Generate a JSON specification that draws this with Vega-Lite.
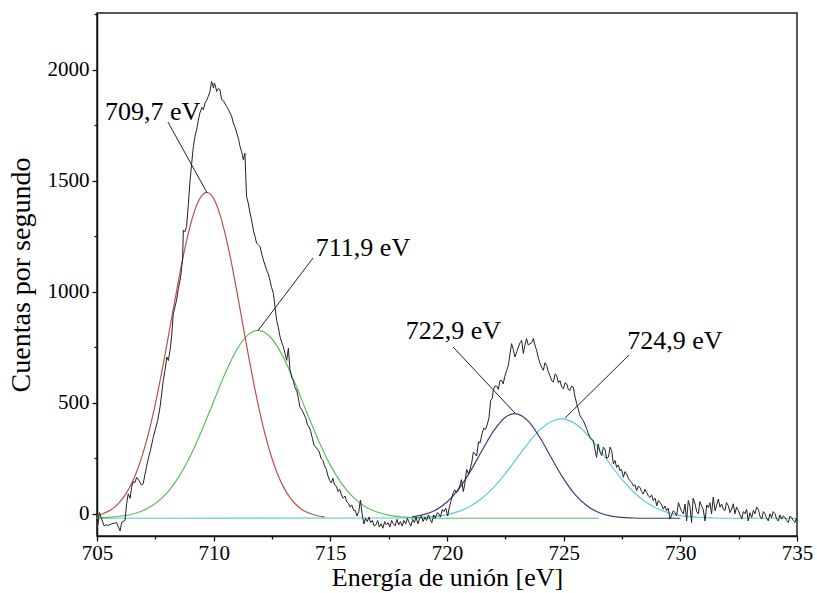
{
  "$schema": "https://vega.github.io/schema/vega-lite/v6.json",
  "width": 700,
  "height": 523,
  "autosize": "none",
  "padding": {"left": 97, "top": 13, "right": 20, "bottom": 57},
  "background": "white",
  "config": {
    "font": "Liberation Serif, serif",
    "view": {"stroke": "#222", "strokeWidth": 1.5},
    "style": {
      "guide-label": {"font": "Liberation Serif, serif", "fill": "#000"},
      "guide-title": {"font": "Liberation Serif, serif", "fill": "#000", "fontWeight": "normal"}
    },
    "axis": {
      "labelFont": "Liberation Serif, serif",
      "titleFont": "Liberation Serif, serif",
      "labelColor": "#000",
      "titleColor": "#000",
      "titleFontWeight": "normal",
      "domainColor": "#111",
      "domainWidth": 1.5,
      "tickColor": "#111",
      "tickWidth": 1.3,
      "grid": false,
      "labelOverlap": false,
      "labelFlush": false
    }
  },
  "datasets": {
    "spectrum": [
      {"energia": 705.0, "cuentas": -65}, {"energia": 705.05, "cuentas": -40}, {"energia": 705.1, "cuentas": 6}, {"energia": 705.2, "cuentas": -23}, {"energia": 705.3, "cuentas": -54}, {"energia": 705.4, "cuentas": -50}, {"energia": 705.5, "cuentas": -52}, {"energia": 705.63, "cuentas": -45}, {"energia": 705.75, "cuentas": -42}, {"energia": 705.84, "cuentas": -40}, {"energia": 705.92, "cuentas": -60}, {"energia": 705.99, "cuentas": -77}, {"energia": 706.06, "cuentas": -38}, {"energia": 706.2, "cuentas": -30}, {"energia": 706.27, "cuentas": 45}, {"energia": 706.34, "cuentas": 90}, {"energia": 706.42, "cuentas": 70}, {"energia": 706.48, "cuentas": 119}, {"energia": 706.55, "cuentas": 145}, {"energia": 706.62, "cuentas": 140}, {"energia": 706.7, "cuentas": 164}, {"energia": 706.8, "cuentas": 150}, {"energia": 706.9, "cuentas": 130}, {"energia": 706.98, "cuentas": 135}, {"energia": 707.05, "cuentas": 175}, {"energia": 707.12, "cuentas": 209}, {"energia": 707.2, "cuentas": 250}, {"energia": 707.3, "cuentas": 290}, {"energia": 707.41, "cuentas": 344}, {"energia": 707.5, "cuentas": 380}, {"energia": 707.6, "cuentas": 420}, {"energia": 707.7, "cuentas": 480}, {"energia": 707.77, "cuentas": 540}, {"energia": 707.84, "cuentas": 600}, {"energia": 707.92, "cuentas": 650}, {"energia": 707.99, "cuentas": 706}, {"energia": 708.06, "cuentas": 690}, {"energia": 708.13, "cuentas": 736}, {"energia": 708.2, "cuentas": 800}, {"energia": 708.27, "cuentas": 902}, {"energia": 708.34, "cuentas": 930}, {"energia": 708.41, "cuentas": 962}, {"energia": 708.48, "cuentas": 1010}, {"energia": 708.56, "cuentas": 1052}, {"energia": 708.6, "cuentas": 1080}, {"energia": 708.63, "cuentas": 1112}, {"energia": 708.67, "cuentas": 1150}, {"energia": 708.7, "cuentas": 1278}, {"energia": 708.77, "cuentas": 1270}, {"energia": 708.84, "cuentas": 1293}, {"energia": 708.92, "cuentas": 1400}, {"energia": 708.99, "cuentas": 1503}, {"energia": 709.06, "cuentas": 1580}, {"energia": 709.13, "cuentas": 1654}, {"energia": 709.2, "cuentas": 1700}, {"energia": 709.27, "cuentas": 1729}, {"energia": 709.34, "cuentas": 1770}, {"energia": 709.41, "cuentas": 1805}, {"energia": 709.5, "cuentas": 1830}, {"energia": 709.56, "cuentas": 1820}, {"energia": 709.63, "cuentas": 1850}, {"energia": 709.7, "cuentas": 1862}, {"energia": 709.77, "cuentas": 1880}, {"energia": 709.84, "cuentas": 1900}, {"energia": 709.91, "cuentas": 1947}, {"energia": 709.95, "cuentas": 1935}, {"energia": 709.99, "cuentas": 1917}, {"energia": 710.03, "cuentas": 1940}, {"energia": 710.06, "cuentas": 1932}, {"energia": 710.13, "cuentas": 1902}, {"energia": 710.2, "cuentas": 1915}, {"energia": 710.27, "cuentas": 1910}, {"energia": 710.34, "cuentas": 1865}, {"energia": 710.42, "cuentas": 1860}, {"energia": 710.49, "cuentas": 1845}, {"energia": 710.56, "cuentas": 1834}, {"energia": 710.63, "cuentas": 1820}, {"energia": 710.7, "cuentas": 1805}, {"energia": 710.77, "cuentas": 1790}, {"energia": 710.84, "cuentas": 1760}, {"energia": 710.92, "cuentas": 1740}, {"energia": 710.99, "cuentas": 1714}, {"energia": 711.06, "cuentas": 1690}, {"energia": 711.13, "cuentas": 1654}, {"energia": 711.2, "cuentas": 1630}, {"energia": 711.27, "cuentas": 1594}, {"energia": 711.34, "cuentas": 1624}, {"energia": 711.41, "cuentas": 1428}, {"energia": 711.48, "cuentas": 1400}, {"energia": 711.56, "cuentas": 1354}, {"energia": 711.63, "cuentas": 1320}, {"energia": 711.7, "cuentas": 1278}, {"energia": 711.77, "cuentas": 1250}, {"energia": 711.84, "cuentas": 1218}, {"energia": 711.92, "cuentas": 1210}, {"energia": 711.99, "cuentas": 1203}, {"energia": 712.06, "cuentas": 1170}, {"energia": 712.13, "cuentas": 1143}, {"energia": 712.2, "cuentas": 1120}, {"energia": 712.27, "cuentas": 1097}, {"energia": 712.34, "cuentas": 1080}, {"energia": 712.41, "cuentas": 1052}, {"energia": 712.48, "cuentas": 1020}, {"energia": 712.56, "cuentas": 992}, {"energia": 712.63, "cuentas": 930}, {"energia": 712.7, "cuentas": 871}, {"energia": 712.77, "cuentas": 840}, {"energia": 712.84, "cuentas": 800}, {"energia": 712.92, "cuentas": 770}, {"energia": 712.99, "cuentas": 751}, {"energia": 713.06, "cuentas": 720}, {"energia": 713.13, "cuentas": 691}, {"energia": 713.2, "cuentas": 745}, {"energia": 713.27, "cuentas": 650}, {"energia": 713.34, "cuentas": 615}, {"energia": 713.41, "cuentas": 600}, {"energia": 713.48, "cuentas": 570}, {"energia": 713.56, "cuentas": 555}, {"energia": 713.63, "cuentas": 520}, {"energia": 713.7, "cuentas": 480}, {"energia": 713.77, "cuentas": 470}, {"energia": 713.87, "cuentas": 448}, {"energia": 713.95, "cuentas": 430}, {"energia": 714.02, "cuentas": 400}, {"energia": 714.09, "cuentas": 390}, {"energia": 714.16, "cuentas": 371}, {"energia": 714.23, "cuentas": 340}, {"energia": 714.3, "cuentas": 309}, {"energia": 714.38, "cuentas": 300}, {"energia": 714.45, "cuentas": 290}, {"energia": 714.53, "cuentas": 278}, {"energia": 714.6, "cuentas": 250}, {"energia": 714.68, "cuentas": 240}, {"energia": 714.75, "cuentas": 217}, {"energia": 714.83, "cuentas": 200}, {"energia": 714.9, "cuentas": 170}, {"energia": 714.97, "cuentas": 150}, {"energia": 715.04, "cuentas": 139}, {"energia": 715.11, "cuentas": 160}, {"energia": 715.18, "cuentas": 130}, {"energia": 715.26, "cuentas": 124}, {"energia": 715.33, "cuentas": 100}, {"energia": 715.4, "cuentas": 110}, {"energia": 715.48, "cuentas": 85}, {"energia": 715.55, "cuentas": 70}, {"energia": 715.63, "cuentas": 80}, {"energia": 715.7, "cuentas": 55}, {"energia": 715.78, "cuentas": 46}, {"energia": 715.85, "cuentas": 30}, {"energia": 715.92, "cuentas": 40}, {"energia": 716.0, "cuentas": 15}, {"energia": 716.07, "cuentas": 15}, {"energia": 716.14, "cuentas": -10}, {"energia": 716.22, "cuentas": 10}, {"energia": 716.29, "cuentas": 62}, {"energia": 716.36, "cuentas": 0}, {"energia": 716.44, "cuentas": -46}, {"energia": 716.51, "cuentas": -20}, {"energia": 716.58, "cuentas": -35}, {"energia": 716.66, "cuentas": -15}, {"energia": 716.73, "cuentas": -40}, {"energia": 716.8, "cuentas": -30}, {"energia": 716.88, "cuentas": -55}, {"energia": 716.95, "cuentas": -50}, {"energia": 717.03, "cuentas": -30}, {"energia": 717.1, "cuentas": -60}, {"energia": 717.18, "cuentas": -45}, {"energia": 717.25, "cuentas": -65}, {"energia": 717.33, "cuentas": -35}, {"energia": 717.4, "cuentas": -50}, {"energia": 717.48, "cuentas": -40}, {"energia": 717.55, "cuentas": -60}, {"energia": 717.63, "cuentas": -30}, {"energia": 717.7, "cuentas": -45}, {"energia": 717.78, "cuentas": -55}, {"energia": 717.85, "cuentas": -25}, {"energia": 717.93, "cuentas": -50}, {"energia": 718.0, "cuentas": -35}, {"energia": 718.08, "cuentas": -55}, {"energia": 718.15, "cuentas": -30}, {"energia": 718.23, "cuentas": -45}, {"energia": 718.3, "cuentas": -20}, {"energia": 718.38, "cuentas": -40}, {"energia": 718.45, "cuentas": -55}, {"energia": 718.53, "cuentas": -25}, {"energia": 718.6, "cuentas": -40}, {"energia": 718.68, "cuentas": -15}, {"energia": 718.75, "cuentas": -45}, {"energia": 718.83, "cuentas": -20}, {"energia": 718.9, "cuentas": -10}, {"energia": 718.98, "cuentas": -35}, {"energia": 719.05, "cuentas": -15}, {"energia": 719.13, "cuentas": -30}, {"energia": 719.2, "cuentas": -5}, {"energia": 719.28, "cuentas": -25}, {"energia": 719.35, "cuentas": -40}, {"energia": 719.43, "cuentas": -5}, {"energia": 719.5, "cuentas": -20}, {"energia": 719.58, "cuentas": 5}, {"energia": 719.65, "cuentas": 0}, {"energia": 719.72, "cuentas": -15}, {"energia": 719.8, "cuentas": 20}, {"energia": 719.87, "cuentas": 10}, {"energia": 719.95, "cuentas": 25}, {"energia": 720.03, "cuentas": -10}, {"energia": 720.1, "cuentas": 30}, {"energia": 720.18, "cuentas": 60}, {"energia": 720.25, "cuentas": 90}, {"energia": 720.33, "cuentas": 108}, {"energia": 720.4, "cuentas": 95}, {"energia": 720.47, "cuentas": 103}, {"energia": 720.55, "cuentas": 126}, {"energia": 720.62, "cuentas": 154}, {"energia": 720.7, "cuentas": 100}, {"energia": 720.77, "cuentas": 140}, {"energia": 720.84, "cuentas": 200}, {"energia": 720.92, "cuentas": 180}, {"energia": 720.99, "cuentas": 201}, {"energia": 721.06, "cuentas": 230}, {"energia": 721.13, "cuentas": 278}, {"energia": 721.2, "cuentas": 270}, {"energia": 721.27, "cuentas": 260}, {"energia": 721.35, "cuentas": 325}, {"energia": 721.42, "cuentas": 320}, {"energia": 721.5, "cuentas": 360}, {"energia": 721.58, "cuentas": 386}, {"energia": 721.65, "cuentas": 380}, {"energia": 721.72, "cuentas": 400}, {"energia": 721.8, "cuentas": 433}, {"energia": 721.87, "cuentas": 510}, {"energia": 721.94, "cuentas": 520}, {"energia": 721.99, "cuentas": 560}, {"energia": 722.06, "cuentas": 575}, {"energia": 722.13, "cuentas": 575}, {"energia": 722.2, "cuentas": 560}, {"energia": 722.27, "cuentas": 600}, {"energia": 722.34, "cuentas": 600}, {"energia": 722.41, "cuentas": 585}, {"energia": 722.48, "cuentas": 620}, {"energia": 722.56, "cuentas": 646}, {"energia": 722.63, "cuentas": 668}, {"energia": 722.7, "cuentas": 720}, {"energia": 722.77, "cuentas": 766}, {"energia": 722.84, "cuentas": 740}, {"energia": 722.91, "cuentas": 706}, {"energia": 722.99, "cuentas": 730}, {"energia": 723.06, "cuentas": 751}, {"energia": 723.13, "cuentas": 770}, {"energia": 723.2, "cuentas": 781}, {"energia": 723.27, "cuentas": 722}, {"energia": 723.34, "cuentas": 760}, {"energia": 723.41, "cuentas": 789}, {"energia": 723.48, "cuentas": 760}, {"energia": 723.56, "cuentas": 766}, {"energia": 723.63, "cuentas": 770}, {"energia": 723.7, "cuentas": 789}, {"energia": 723.77, "cuentas": 760}, {"energia": 723.84, "cuentas": 736}, {"energia": 723.92, "cuentas": 700}, {"energia": 723.99, "cuentas": 676}, {"energia": 724.06, "cuentas": 660}, {"energia": 724.13, "cuentas": 646}, {"energia": 724.2, "cuentas": 680}, {"energia": 724.27, "cuentas": 668}, {"energia": 724.34, "cuentas": 640}, {"energia": 724.41, "cuentas": 623}, {"energia": 724.48, "cuentas": 600}, {"energia": 724.56, "cuentas": 593}, {"energia": 724.63, "cuentas": 630}, {"energia": 724.7, "cuentas": 623}, {"energia": 724.77, "cuentas": 590}, {"energia": 724.84, "cuentas": 600}, {"energia": 724.92, "cuentas": 570}, {"energia": 724.99, "cuentas": 563}, {"energia": 725.06, "cuentas": 590}, {"energia": 725.13, "cuentas": 585}, {"energia": 725.2, "cuentas": 560}, {"energia": 725.27, "cuentas": 555}, {"energia": 725.34, "cuentas": 575}, {"energia": 725.41, "cuentas": 570}, {"energia": 725.48, "cuentas": 530}, {"energia": 725.56, "cuentas": 495}, {"energia": 725.63, "cuentas": 470}, {"energia": 725.7, "cuentas": 442}, {"energia": 725.77, "cuentas": 430}, {"energia": 725.84, "cuentas": 420}, {"energia": 725.92, "cuentas": 400}, {"energia": 725.99, "cuentas": 382}, {"energia": 726.06, "cuentas": 360}, {"energia": 726.13, "cuentas": 344}, {"energia": 726.2, "cuentas": 335}, {"energia": 726.27, "cuentas": 330}, {"energia": 726.34, "cuentas": 290}, {"energia": 726.41, "cuentas": 254}, {"energia": 726.48, "cuentas": 315}, {"energia": 726.55, "cuentas": 280}, {"energia": 726.63, "cuentas": 262}, {"energia": 726.7, "cuentas": 300}, {"energia": 726.77, "cuentas": 292}, {"energia": 726.84, "cuentas": 250}, {"energia": 726.92, "cuentas": 256}, {"energia": 726.99, "cuentas": 300}, {"energia": 727.06, "cuentas": 284}, {"energia": 727.13, "cuentas": 224}, {"energia": 727.2, "cuentas": 240}, {"energia": 727.27, "cuentas": 209}, {"energia": 727.34, "cuentas": 220}, {"energia": 727.41, "cuentas": 194}, {"energia": 727.48, "cuentas": 200}, {"energia": 727.56, "cuentas": 164}, {"energia": 727.63, "cuentas": 190}, {"energia": 727.7, "cuentas": 179}, {"energia": 727.77, "cuentas": 160}, {"energia": 727.84, "cuentas": 149}, {"energia": 727.92, "cuentas": 140}, {"energia": 727.99, "cuentas": 126}, {"energia": 728.06, "cuentas": 130}, {"energia": 728.13, "cuentas": 104}, {"energia": 728.2, "cuentas": 125}, {"energia": 728.27, "cuentas": 119}, {"energia": 728.34, "cuentas": 100}, {"energia": 728.41, "cuentas": 89}, {"energia": 728.48, "cuentas": 110}, {"energia": 728.56, "cuentas": 96}, {"energia": 728.63, "cuentas": 80}, {"energia": 728.7, "cuentas": 74}, {"energia": 728.77, "cuentas": 85}, {"energia": 728.84, "cuentas": 59}, {"energia": 728.92, "cuentas": 70}, {"energia": 728.99, "cuentas": 36}, {"energia": 729.06, "cuentas": 60}, {"energia": 729.13, "cuentas": 51}, {"energia": 729.2, "cuentas": 40}, {"energia": 729.27, "cuentas": 21}, {"energia": 729.34, "cuentas": 35}, {"energia": 729.41, "cuentas": 14}, {"energia": 729.48, "cuentas": 25}, {"energia": 729.56, "cuentas": -24}, {"energia": 729.63, "cuentas": -5}, {"energia": 729.7, "cuentas": 14}, {"energia": 729.77, "cuentas": 5}, {"energia": 729.84, "cuentas": -9}, {"energia": 729.92, "cuentas": 50}, {"energia": 729.99, "cuentas": 28}, {"energia": 730.06, "cuentas": 10}, {"energia": 730.13, "cuentas": 0}, {"energia": 730.2, "cuentas": 44}, {"energia": 730.27, "cuentas": -32}, {"energia": 730.34, "cuentas": 60}, {"energia": 730.41, "cuentas": 36}, {"energia": 730.48, "cuentas": -39}, {"energia": 730.55, "cuentas": 70}, {"energia": 730.63, "cuentas": 44}, {"energia": 730.7, "cuentas": 10}, {"energia": 730.77, "cuentas": 0}, {"energia": 730.84, "cuentas": 55}, {"energia": 730.91, "cuentas": 36}, {"energia": 730.98, "cuentas": 20}, {"energia": 731.06, "cuentas": -32}, {"energia": 731.13, "cuentas": 40}, {"energia": 731.2, "cuentas": 28}, {"energia": 731.27, "cuentas": 50}, {"energia": 731.34, "cuentas": 0}, {"energia": 731.41, "cuentas": 75}, {"energia": 731.49, "cuentas": 14}, {"energia": 731.56, "cuentas": 40}, {"energia": 731.63, "cuentas": 66}, {"energia": 731.7, "cuentas": 30}, {"energia": 731.77, "cuentas": 44}, {"energia": 731.84, "cuentas": 20}, {"energia": 731.91, "cuentas": 14}, {"energia": 731.98, "cuentas": 50}, {"energia": 732.06, "cuentas": 36}, {"energia": 732.13, "cuentas": 5}, {"energia": 732.2, "cuentas": 21}, {"energia": 732.27, "cuentas": 45}, {"energia": 732.34, "cuentas": 0}, {"energia": 732.41, "cuentas": 30}, {"energia": 732.49, "cuentas": 14}, {"energia": 732.56, "cuentas": -5}, {"energia": 732.63, "cuentas": -24}, {"energia": 732.7, "cuentas": 10}, {"energia": 732.77, "cuentas": 0}, {"energia": 732.84, "cuentas": 20}, {"energia": 732.91, "cuentas": -32}, {"energia": 732.98, "cuentas": 5}, {"energia": 733.06, "cuentas": -17}, {"energia": 733.13, "cuentas": 15}, {"energia": 733.2, "cuentas": 0}, {"energia": 733.27, "cuentas": 30}, {"energia": 733.34, "cuentas": 21}, {"energia": 733.41, "cuentas": -10}, {"energia": 733.49, "cuentas": -24}, {"energia": 733.56, "cuentas": 10}, {"energia": 733.63, "cuentas": 0}, {"energia": 733.7, "cuentas": -20}, {"energia": 733.77, "cuentas": -32}, {"energia": 733.84, "cuentas": 0}, {"energia": 733.91, "cuentas": -17}, {"energia": 733.98, "cuentas": 10}, {"energia": 734.06, "cuentas": 0}, {"energia": 734.13, "cuentas": -25}, {"energia": 734.2, "cuentas": -32}, {"energia": 734.27, "cuentas": -5}, {"energia": 734.34, "cuentas": -24}, {"energia": 734.41, "cuentas": -10}, {"energia": 734.49, "cuentas": -17}, {"energia": 734.56, "cuentas": -30}, {"energia": 734.63, "cuentas": -39}, {"energia": 734.7, "cuentas": -10}, {"energia": 734.77, "cuentas": -17}, {"energia": 734.84, "cuentas": -30}, {"energia": 734.91, "cuentas": -39}, {"energia": 734.97, "cuentas": -20}, {"energia": 735.0, "cuentas": -30}
    ],
    "cyan": [
      {"energia": 705, "cuentas": -20}, {"energia": 718, "cuentas": -19}, {"energia": 718.5, "cuentas": -18}, {"energia": 719, "cuentas": -16}, {"energia": 719.5, "cuentas": -12}, {"energia": 720, "cuentas": -4}, {"energia": 720.5, "cuentas": 11}, {"energia": 721, "cuentas": 34}, {"energia": 721.5, "cuentas": 70}, {"energia": 722, "cuentas": 119}, {"energia": 722.5, "cuentas": 181}, {"energia": 723, "cuentas": 251}, {"energia": 723.5, "cuentas": 321}, {"energia": 724, "cuentas": 380}, {"energia": 724.5, "cuentas": 417}, {"energia": 724.9, "cuentas": 427}, {"energia": 725.5, "cuentas": 405}, {"energia": 726, "cuentas": 358}, {"energia": 726.5, "cuentas": 294}, {"energia": 727, "cuentas": 223}, {"energia": 727.5, "cuentas": 155}, {"energia": 728, "cuentas": 98}, {"energia": 728.5, "cuentas": 54}, {"energia": 729, "cuentas": 24}, {"energia": 729.5, "cuentas": 4}, {"energia": 730, "cuentas": -8}, {"energia": 730.5, "cuentas": -14}, {"energia": 731, "cuentas": -17}, {"energia": 731.5, "cuentas": -19}, {"energia": 732, "cuentas": -20}, {"energia": 735, "cuentas": -20}
    ],
    "green": [
      {"energia": 705, "cuentas": -18}, {"energia": 705.5, "cuentas": -16}, {"energia": 706, "cuentas": -11}, {"energia": 706.5, "cuentas": -2}, {"energia": 707, "cuentas": 16}, {"energia": 707.5, "cuentas": 46}, {"energia": 708, "cuentas": 94}, {"energia": 708.5, "cuentas": 165}, {"energia": 709, "cuentas": 260}, {"energia": 709.5, "cuentas": 377}, {"energia": 710, "cuentas": 506}, {"energia": 710.5, "cuentas": 634}, {"energia": 711, "cuentas": 741}, {"energia": 711.5, "cuentas": 808}, {"energia": 711.9, "cuentas": 826}, {"energia": 712.5, "cuentas": 787}, {"energia": 713, "cuentas": 702}, {"energia": 713.5, "cuentas": 584}, {"energia": 714, "cuentas": 454}, {"energia": 714.5, "cuentas": 328}, {"energia": 715, "cuentas": 219}, {"energia": 715.5, "cuentas": 134}, {"energia": 716, "cuentas": 73}, {"energia": 716.5, "cuentas": 32}, {"energia": 717, "cuentas": 8}, {"energia": 717.5, "cuentas": -6}, {"energia": 718, "cuentas": -14}, {"energia": 718.5, "cuentas": -17}, {"energia": 719, "cuentas": -19}, {"energia": 720, "cuentas": -20}, {"energia": 726.5, "cuentas": -20}
    ],
    "red": [
      {"energia": 705, "cuentas": -8}, {"energia": 705.25, "cuentas": 0}, {"energia": 705.5, "cuentas": 12}, {"energia": 705.75, "cuentas": 30}, {"energia": 706, "cuentas": 56}, {"energia": 706.25, "cuentas": 92}, {"energia": 706.5, "cuentas": 140}, {"energia": 706.75, "cuentas": 203}, {"energia": 707, "cuentas": 283}, {"energia": 707.25, "cuentas": 380}, {"energia": 707.5, "cuentas": 495}, {"energia": 707.75, "cuentas": 624}, {"energia": 708, "cuentas": 765}, {"energia": 708.25, "cuentas": 911}, {"energia": 708.5, "cuentas": 1054}, {"energia": 708.75, "cuentas": 1187}, {"energia": 709, "cuentas": 1299}, {"energia": 709.25, "cuentas": 1384}, {"energia": 709.5, "cuentas": 1434}, {"energia": 709.7, "cuentas": 1447}, {"energia": 710, "cuentas": 1419}, {"energia": 710.25, "cuentas": 1354}, {"energia": 710.5, "cuentas": 1257}, {"energia": 710.75, "cuentas": 1136}, {"energia": 711, "cuentas": 998}, {"energia": 711.25, "cuentas": 852}, {"energia": 711.5, "cuentas": 708}, {"energia": 711.75, "cuentas": 571}, {"energia": 712, "cuentas": 447}, {"energia": 712.25, "cuentas": 339}, {"energia": 712.5, "cuentas": 249}, {"energia": 712.75, "cuentas": 176}, {"energia": 713, "cuentas": 119}, {"energia": 713.25, "cuentas": 76}, {"energia": 713.5, "cuentas": 44}, {"energia": 713.75, "cuentas": 22}, {"energia": 714, "cuentas": 7}, {"energia": 714.25, "cuentas": -3}, {"energia": 714.5, "cuentas": -10}, {"energia": 714.75, "cuentas": -14}
    ],
    "navy": [
      {"energia": 718.5, "cuentas": -14}, {"energia": 719, "cuentas": -4}, {"energia": 719.5, "cuentas": 16}, {"energia": 720, "cuentas": 53}, {"energia": 720.5, "cuentas": 111}, {"energia": 721, "cuentas": 191}, {"energia": 721.5, "cuentas": 285}, {"energia": 722, "cuentas": 373}, {"energia": 722.5, "cuentas": 435}, {"energia": 722.9, "cuentas": 451}, {"energia": 723.5, "cuentas": 415}, {"energia": 724, "cuentas": 340}, {"energia": 724.5, "cuentas": 247}, {"energia": 725, "cuentas": 157}, {"energia": 725.5, "cuentas": 85}, {"energia": 726, "cuentas": 36}, {"energia": 726.5, "cuentas": 6}, {"energia": 727, "cuentas": -9}, {"energia": 727.5, "cuentas": -16}, {"energia": 728, "cuentas": -19}, {"energia": 728.5, "cuentas": -20}, {"energia": 730, "cuentas": -20}
    ],
    "labels": [
      {"energia": 707.38, "cuentas": 1809, "texto": "709,7 eV"},
      {"energia": 716.4, "cuentas": 1197, "texto": "711,9 eV"},
      {"energia": 720.27, "cuentas": 821, "texto": "722,9 eV"},
      {"energia": 729.77, "cuentas": 776, "texto": "724,9 eV"}
    ],
    "leaders": [
      {"energia": 708.04, "cuentas": 1764, "energia2": 709.72, "cuentas2": 1445},
      {"energia": 714.26, "cuentas": 1152, "energia2": 711.9, "cuentas2": 825},
      {"energia": 720.26, "cuentas": 751, "energia2": 722.91, "cuentas2": 454},
      {"energia": 727.8, "cuentas": 715, "energia2": 725.06, "cuentas2": 431}
    ]
  },
  "encoding": {
    "x": {
      "field": "energia",
      "type": "quantitative",
      "scale": {"domain": [705, 735], "nice": false, "zero": false},
      "axis": {
        "title": "Energía de unión [eV]",
        "titleFont": "Liberation Serif, serif",
        "labelFont": "Liberation Serif, serif",
        "titleFontSize": 26,
        "titleFontWeight": "normal",
        "titlePadding": 1,
        "labelFontSize": 21,
        "labelPadding": 1,
        "values": [705, 707.5, 710, 712.5, 715, 717.5, 720, 722.5, 725, 727.5, 730, 732.5, 735],
        "labelExpr": "datum.value % 5 == 0 ? format(datum.value, 'd') : ''",
        "tickSize": {"condition": {"test": "datum.value % 5 != 0", "value": 3}, "value": 5}
      }
    },
    "y": {
      "field": "cuentas",
      "type": "quantitative",
      "scale": {"domain": [-100, 2255], "nice": false, "zero": false},
      "axis": {
        "title": "Cuentas por segundo",
        "titleFont": "Liberation Serif, serif",
        "labelFont": "Liberation Serif, serif",
        "titleFontSize": 28,
        "titleFontWeight": "normal",
        "titlePadding": 12,
        "labelFontSize": 21,
        "labelPadding": 3,
        "values": [0, 250, 500, 750, 1000, 1250, 1500, 1750, 2000, 2250],
        "labelExpr": "datum.value % 500 == 0 ? format(datum.value, 'd') : ''",
        "tickSize": {"condition": {"test": "datum.value % 500 != 0", "value": 3}, "value": 5}
      }
    }
  },
  "layer": [
    {"data": {"name": "cyan"}, "mark": {"type": "line", "color": "#62c8d6", "strokeWidth": 1.2, "interpolate": "monotone"}},
    {"data": {"name": "green"}, "mark": {"type": "line", "color": "#5cbf5c", "strokeWidth": 1.2, "interpolate": "monotone"}},
    {"data": {"name": "red"}, "mark": {"type": "line", "color": "#c0504d", "strokeWidth": 1.2, "interpolate": "monotone"}},
    {"data": {"name": "navy"}, "mark": {"type": "line", "color": "#3d3d80", "strokeWidth": 1.2, "interpolate": "monotone"}},
    {"data": {"name": "spectrum"}, "mark": {"type": "line", "color": "#222", "strokeWidth": 1}},
    {
      "data": {"name": "leaders"},
      "mark": {"type": "rule", "color": "#222", "strokeWidth": 1},
      "encoding": {
        "x2": {"field": "energia2"},
        "y2": {"field": "cuentas2"}
      }
    },
    {
      "data": {"name": "labels"},
      "mark": {"type": "text", "font": "Liberation Serif, serif", "fontSize": 26, "color": "#000", "align": "center", "baseline": "middle"},
      "encoding": {"text": {"field": "texto"}}
    }
  ]
}
